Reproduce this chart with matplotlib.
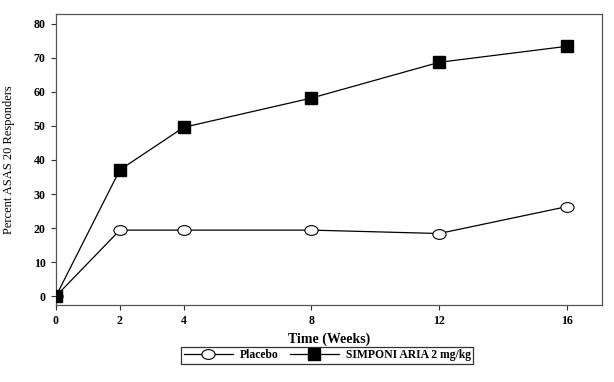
import matplotlib
matplotlib.use("Agg")
import matplotlib.pyplot as plt
from matplotlib.path import Path
from matplotlib.transforms import Affine2D

weeks = [0, 2, 4, 8, 12, 16]
placebo = [0, 19.4, 19.4, 19.4, 18.4, 26.3]
simponi = [0, 37.1, 49.6, 58.2, 68.7, 73.4]
xticks = [0, 2, 4, 8, 12, 16]
yticks = [0, 10, 20, 30, 40, 50, 60, 70, 80]

plt.rcParams['font.family'] = ['Liberation Serif', 'DejaVu Serif']

ellipse = Path.unit_circle().transformed(Affine2D().scale(1.0, 0.74))

fig = plt.figure(figsize=(6.14, 3.82), dpi=100)
ax = fig.add_axes([0.0912, 0.2016, 0.8893, 0.7618])

ax.plot(weeks, placebo, color='black', lw=0.9, marker=ellipse, markersize=9.5,
        markerfacecolor='white', markeredgecolor='black', markeredgewidth=0.8,
        label='Placebo', zorder=3)
ax.plot(weeks, simponi, color='black', lw=0.9, marker='s', markersize=8.2,
        markerfacecolor='black', markeredgecolor='black',
        label='SIMPONI ARIA 2 mg/kg', zorder=4)

ax.set_xlim(0, 17.1)
ax.set_ylim(-2.6, 82.9)
ax.set_xticks(xticks)
ax.set_yticks(yticks)
ax.set_xticklabels([str(t) for t in xticks], fontsize=8.6, fontweight='bold')
ax.set_yticklabels([str(t) for t in yticks], fontsize=8.6, fontweight='bold')
ax.tick_params(direction='out', length=3.5, width=0.8, colors='#333333',
               labelcolor='black', pad=4)
for s in ax.spines.values():
    s.set_color('#555555')
    s.set_linewidth(0.9)

ax.set_xlabel('Time (Weeks)', fontsize=10, fontweight='bold', labelpad=3.5)
ax.set_ylabel('Percent ASAS 20 Responders', fontsize=9)
ax.yaxis.set_label_coords(-0.075, 0.5)

leg = fig.legend(loc='center', bbox_to_anchor=(0.533, 0.07), ncol=2,
                 prop={'weight': 'bold', 'size': 8.4},
                 frameon=True, fancybox=False, edgecolor='black',
                 handlelength=4.2, borderpad=0.2, columnspacing=1.0,
                 handletextpad=0.6, borderaxespad=0)
leg.get_frame().set_linewidth(0.9)

fig.savefig('out.png', dpi=100)
